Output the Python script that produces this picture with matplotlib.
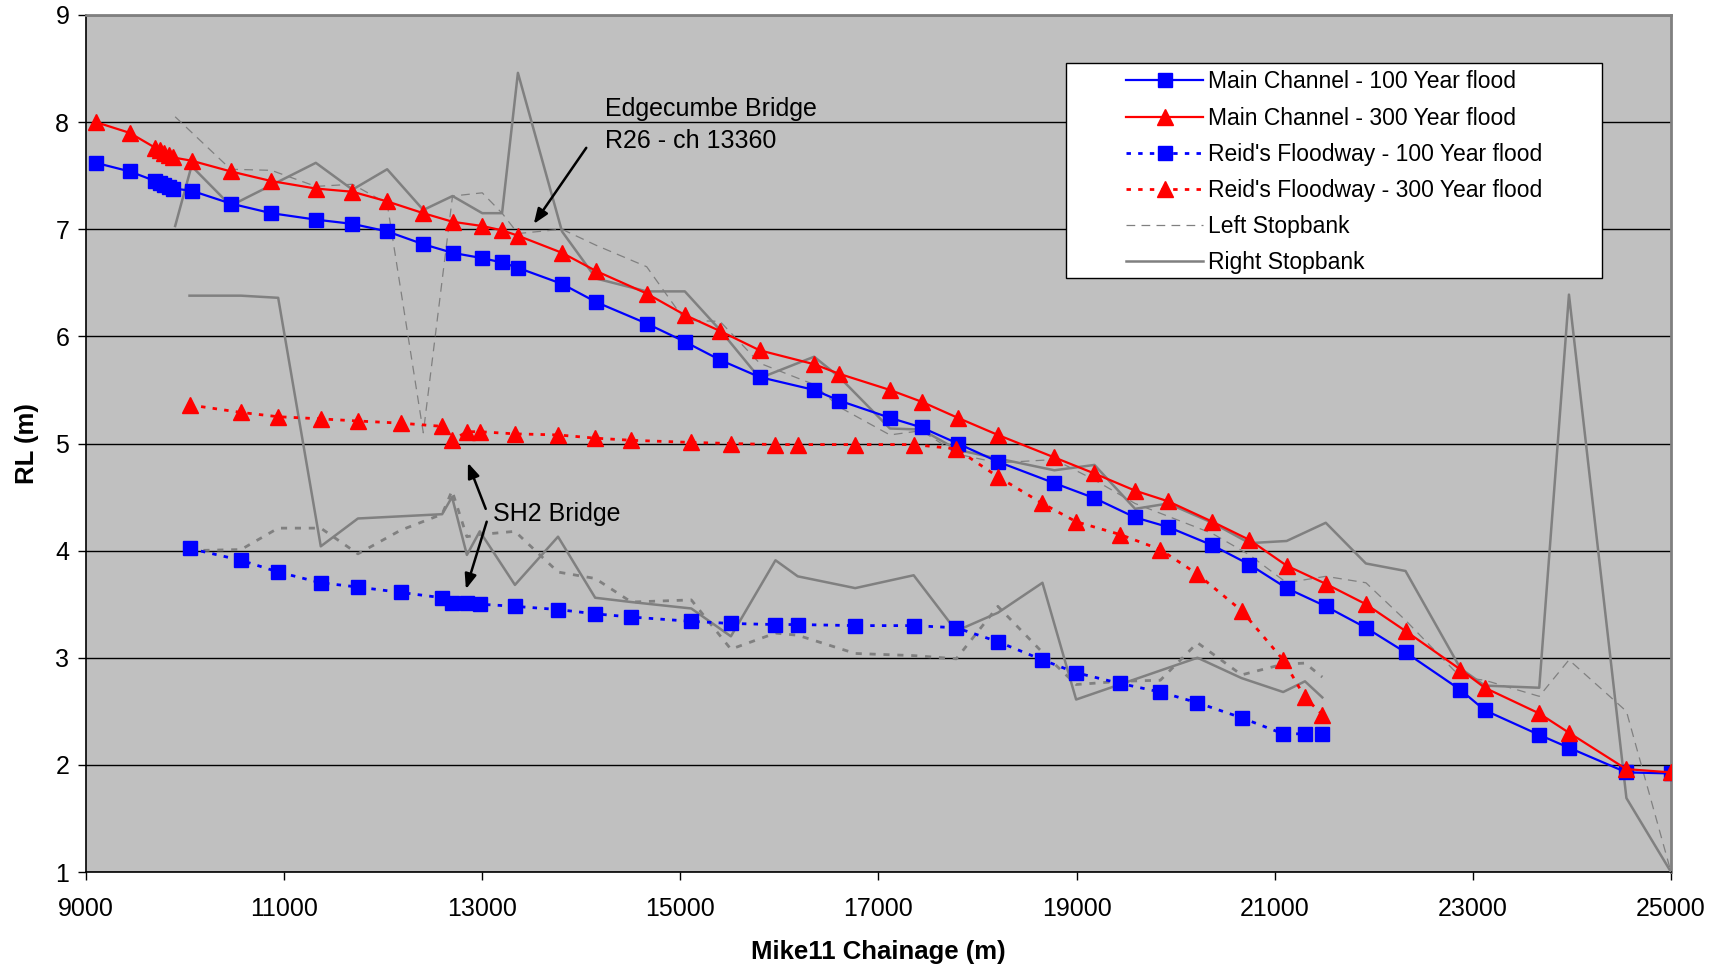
import matplotlib
matplotlib.use("Agg")
import matplotlib.pyplot as plt
from matplotlib.patches import Rectangle

plt.rcParams['font.family'] = ['Liberation Sans', 'DejaVu Sans']

# ---------------- data ----------------
mc_x = [9100, 9440, 9700, 9745, 9790, 9835, 9880, 10065, 10460, 10870, 11320, 11690,
        12040, 12405, 12700, 13000, 13200, 13360, 13805, 14150, 14660, 15045, 15400,
        15800, 16350, 16605, 17115, 17435, 17800, 18205, 18775, 19180, 19590, 19925,
        20370, 20745, 21120, 21515, 21920, 22320, 22875, 23120, 23670, 23970, 24550, 25000]
mc100 = [7.62, 7.54, 7.45, 7.43, 7.41, 7.39, 7.38, 7.36, 7.24, 7.15, 7.09, 7.05,
         6.98, 6.86, 6.78, 6.73, 6.69, 6.64, 6.49, 6.32, 6.12, 5.95, 5.78,
         5.62, 5.50, 5.40, 5.24, 5.15, 5.00, 4.83, 4.63, 4.49, 4.31, 4.22,
         4.05, 3.87, 3.65, 3.48, 3.28, 3.05, 2.70, 2.51, 2.28, 2.16, 1.93, 1.92]
mc300 = [8.00, 7.90, 7.76, 7.74, 7.71, 7.69, 7.67, 7.64, 7.54, 7.45, 7.38, 7.35,
         7.26, 7.15, 7.07, 7.03, 6.99, 6.94, 6.78, 6.61, 6.40, 6.20, 6.05,
         5.87, 5.74, 5.65, 5.50, 5.39, 5.24, 5.08, 4.87, 4.72, 4.56, 4.46,
         4.27, 4.10, 3.86, 3.69, 3.50, 3.25, 2.89, 2.72, 2.48, 2.30, 1.96, 1.93]

rf_x = [10045, 10565, 10940, 11370, 11745, 12175, 12595, 12695, 12845, 12975, 13330,
        13765, 14140, 14505, 15110, 15510, 15960, 16185, 16765, 17355, 17785, 18205,
        18655, 18995, 19440, 19845, 20220, 20665, 21085, 21305, 21480]
rf100 = [4.02, 3.91, 3.80, 3.70, 3.66, 3.61, 3.56, 3.51, 3.51, 3.50, 3.48,
         3.45, 3.41, 3.38, 3.34, 3.32, 3.31, 3.31, 3.30, 3.30, 3.28, 3.15,
         2.98, 2.86, 2.76, 2.68, 2.58, 2.44, 2.29, 2.29, 2.29]
rf300 = [5.36, 5.29, 5.25, 5.23, 5.21, 5.19, 5.16, 5.03, 5.11, 5.11, 5.09,
         5.08, 5.05, 5.03, 5.01, 5.00, 4.99, 4.99, 4.99, 4.99, 4.95, 4.69,
         4.44, 4.27, 4.15, 4.01, 3.78, 3.44, 2.98, 2.63, 2.47]

lsb_x = [9900, 10460, 10870, 11320, 11690, 12040, 12405, 12700, 13000, 13200, 13360,
         13805, 14150, 14660, 15045, 15400, 15800, 16350, 16605, 17115, 17435, 17800,
         18205, 18775, 19180, 19590, 19925, 20370, 20745, 21120, 21515, 21920, 22320,
         22875, 23120, 23670, 23970, 24550, 25000]
lsb_y = [8.05, 7.56, 7.55, 7.40, 7.42, 7.24, 5.10, 7.31, 7.34, 7.15, 6.96,
         7.00, 6.85, 6.65, 6.15, 6.14, 5.75, 5.55, 5.34, 5.08, 5.12, 4.90,
         4.82, 4.85, 4.66, 4.44, 4.32, 4.16, 3.96, 3.70, 3.76, 3.70, 3.35,
         2.82, 2.79, 2.64, 2.98, 2.50, 1.00]

rsb_x = [9900, 10065, 10460, 11320, 11690, 12040, 12405, 12700, 13000, 13200, 13360,
         13805, 14150, 14660, 15045, 15400, 15800, 16350, 16605, 17115, 17435, 17800,
         18205, 18775, 19180, 19590, 19925, 20370, 20745, 21120, 21515, 21920, 22320,
         22875, 23120, 23670, 23970, 24550, 25000]
rsb_y = [7.03, 7.59, 7.22, 7.62, 7.37, 7.56, 7.18, 7.31, 7.15, 7.15, 8.46,
         6.98, 6.54, 6.42, 6.42, 6.06, 5.61, 5.81, 5.62, 5.14, 5.13, 4.94,
         4.86, 4.75, 4.80, 4.39, 4.44, 4.26, 4.07, 4.09, 4.26, 3.88, 3.81,
         2.90, 2.74, 2.72, 6.39, 1.69, 1.00]

rlsb_x = rf_x
rlsb_y = [4.00, 4.01, 4.21, 4.21, 3.97, 4.19, 4.34, 4.56, 4.13, 4.15, 4.18,
          3.80, 3.74, 3.52, 3.54, 3.08, 3.23, 3.21, 3.04, 3.02, 2.99, 3.48,
          3.05, 2.75, 2.78, 2.79, 3.14, 2.84, 2.94, 2.95, 2.82]

rrsb_x = [10045, 10565, 10940, 11370, 11745, 12595, 12695, 12845, 12975, 13330,
          13765, 14140, 14505, 15110, 15510, 15960, 16185, 16765, 17355, 17785,
          18205, 18655, 18995, 20220, 20665, 21085, 21305, 21480]
rrsb_y = [6.38, 6.38, 6.36, 4.04, 4.30, 4.34, 4.50, 3.96, 4.18, 3.68,
          4.13, 3.56, 3.52, 3.46, 3.20, 3.91, 3.76, 3.65, 3.77, 3.25,
          3.42, 3.70, 2.61, 3.00, 2.81, 2.68, 2.78, 2.63]

x_ticks = [9000, 11000, 13000, 15000, 17000, 19000, 21000, 23000, 25000]
y_ticks = [1, 2, 3, 4, 5, 6, 7, 8, 9]

labels = ["Main Channel - 100 Year flood", "Main Channel - 300 Year flood",
          "Reid's Floodway - 100 Year flood", "Reid's Floodway - 300 Year flood",
          "Left Stopbank", "Right Stopbank"]

# ---------------- figure ----------------
W, H = 1715, 967
fig = plt.figure(figsize=(W / 100, H / 100), dpi=100)
ax = fig.add_axes([86 / W, 1 - 872 / H, (1671 - 86) / W, (872 - 15) / H])
ax.set_facecolor('#C0C0C0')

gray = '#808080'
ms = 10.5
ln_mc100, = ax.plot(mc_x, mc100, color='#0000FF', lw=1.6, marker='s', ms=ms,
                    mfc='#0000FF', mec='#0000FF', zorder=4)
ln_mc300, = ax.plot(mc_x, mc300, color='#FF0000', lw=1.6, marker='^', ms=ms + 1,
                    mfc='#FF0000', mec='#FF0000', zorder=4)
ln_rf100, = ax.plot(rf_x, rf100, color='#0000FF', lw=2.0, ls=(0, (1.6, 2.6)),
                    marker='s', ms=ms, mfc='#0000FF', mec='#0000FF', zorder=4)
ln_rf300, = ax.plot(rf_x, rf300, color='#FF0000', lw=2.0, ls=(0, (1.6, 2.6)),
                    marker='^', ms=ms + 1, mfc='#FF0000', mec='#FF0000', zorder=4)
ln_lsb, = ax.plot(lsb_x, lsb_y, color=gray, lw=0.9, ls=(0, (7, 5)), zorder=3)
ln_rsb, = ax.plot(rsb_x, rsb_y, color=gray, lw=1.8, zorder=3)
ax.plot(rlsb_x, rlsb_y, color=gray, lw=2.0, ls=(0, (2.2, 2.8)), zorder=3)
ax.plot(rrsb_x, rrsb_y, color=gray, lw=1.8, zorder=3)

ax.set_xlim(9000, 25000)
ax.set_ylim(1, 9)
ax.set_xticks(x_ticks)
ax.set_xticklabels([str(v) for v in x_ticks])
ax.set_yticks(y_ticks)
ax.set_yticklabels([str(v) for v in y_ticks])
ax.tick_params(axis='both', direction='out', length=6, width=1, labelsize=18,
               colors='black')
ax.tick_params(axis='x', pad=12)
ax.tick_params(axis='y', pad=6)
ax.yaxis.grid(True, color='black', lw=1.0)
ax.set_axisbelow(True)
for s in ['top', 'right']:
    ax.spines[s].set_color(gray)
    ax.spines[s].set_linewidth(2)
for s in ['left', 'bottom']:
    ax.spines[s].set_color('black')
    ax.spines[s].set_linewidth(1.2)

ax.set_xlabel('Mike11 Chainage (m)', fontsize=18.5, fontweight='bold', labelpad=14)
ax.set_ylabel('RL (m)', fontsize=18.5, fontweight='bold', labelpad=12)

# annotations
ax.text(14240, 8.12, 'Edgecumbe Bridge', fontsize=18, va='center', ha='left')
ax.text(14240, 7.82, 'R26 - ch 13360', fontsize=18, va='center', ha='left')
arrow_kw = dict(arrowstyle='-|>,head_length=0.9,head_width=0.35', color='black',
                lw=1.8, shrinkA=0, shrinkB=0)
ax.annotate('', xy=(13520, 7.05), xytext=(14050, 7.76), arrowprops=arrow_kw, zorder=6)
ax.text(13110, 4.34, 'SH2 Bridge', fontsize=18, va='center', ha='left')
ax.annotate('', xy=(12855, 4.82), xytext=(13035, 4.39), arrowprops=arrow_kw, zorder=6)
ax.annotate('', xy=(12835, 3.64), xytext=(13045, 4.27), arrowprops=arrow_kw, zorder=6)

# legend box (drawn separately to match the wide padding of the reference)
frame = Rectangle((1066 / W, 1 - 278 / H), (1602 - 1066) / W, (278 - 63) / H,
                  transform=fig.transFigure, facecolor='white', edgecolor='black',
                  lw=1.0, zorder=9, clip_on=False)
ax.add_patch(frame)
leg = ax.legend([ln_mc100, ln_mc300, ln_rf100, ln_rf300, ln_lsb, ln_rsb], labels,
                loc='upper left', bbox_to_anchor=(1126 / W, 1 - 70.5 / H),
                bbox_transform=fig.transFigure, borderaxespad=0, borderpad=0,
                fontsize=16.5, frameon=False, handlelength=3.36, handletextpad=0.24,
                labelspacing=0.575, markerscale=0.95)
leg.set_zorder(10)

fig.savefig('out.png', dpi=100, facecolor='white')
